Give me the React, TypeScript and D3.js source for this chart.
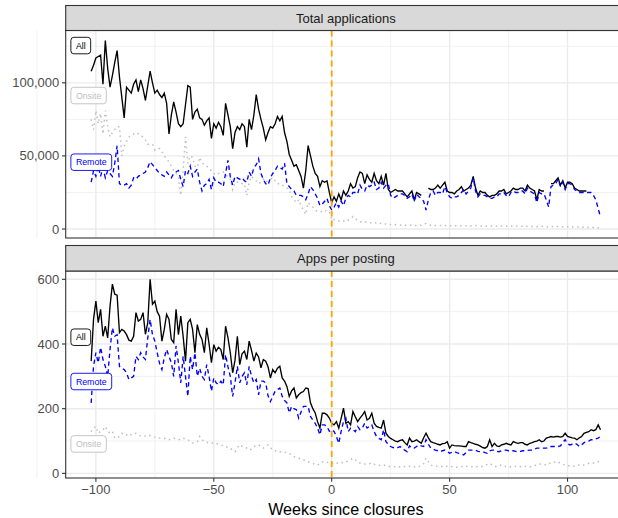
import React from 'react';
import * as d3 from 'd3';

// weekly observations, weeks -102 .. 114 relative to closures
const weeks = d3.range(-102, 115);
const seriesNames = ['All', 'Onsite', 'Remote'];
const seriesColors = ['#000000', '#BEBEBE', '#0000FF'];
const seriesDash = ['none', '1.5,3.6', '4.4,3.4'];

// Total applications (thousands)
const totalAll = [
  108, 112, 117, 118, 119, 99, 129, 110, 97, 105,
  114, 122, 104, 90, 76, 97, 95, 93, 99, 102,
  94, 102, 96, 88, 98, 108, 100, 93, 95, 92,
  90, 93, 86, 65, 78, 87, 80, 72, 70, 72,
  85, 98, 97, 75, 80, 82, 76, 75, 71, 74,
  76, 62, 72, 69, 73, 70, 64, 86, 78, 70,
  55, 66, 70, 68, 72, 70, 56, 75, 68, 78,
  92, 82, 75, 69, 61, 66, 70, 69, 72, 77,
  74, 77, 66, 60, 51, 47, 43, 44, 40, 36,
  28, 40, 57, 50, 43, 38, 36, 29, 33, 32,
  33, 25, 18, 22, 19, 24, 20, 26, 23, 26,
  31, 28, 29, 35, 39, 38, 31, 37, 34, 32,
  38, 33, 31, 36, 30, 38, 27, 25, 26, 27,
  26, 26, 26, 24, 22, 24, 26, 20, 25, 24,
  23, null, null, 28, 27, 27, 28, 30, 28, 30,
  32, 26, 25, 25, 24, 26, 27, 29, 26, 27,
  28, 30, 36, 28, 23, 26, 25, 25, 23, 22,
  23, 23, 24, 26, 26, 27, 24, 25, 26, 28,
  27, 27, 28, 28, 26, 30, 28, 27, 26, 20,
  27, 26, 26, null, null, 31, 31, 33, 35, 30,
  33, 28, 32, 32, 31, 28, 27, 26, 26, 26,
  26, null, null, null, null, null, null,
];
const totalOnsite = [
  75, 68, 81, 72, 79, 65, 81, 70, 63, 66,
  68, 70, 70, 50, 57, 60, 63, 64, 65, 66,
  65, 64, 63, 61, 58, 58, 58, 54, 55, 55,
  53, 50, 48, 46, 43, 40, 38, 36, 23, 40,
  63, 45, 50, 49, 43, 42, 49, 45, 44, 43,
  41, 40, 38, 37, 38, 38, 39, 37, 36, 34,
  27, 32, 32, 32, 31, 31, 23, 32, 36, 34,
  33, 31, 32, 34, 32, 33, 34, 35, 33, 31,
  31, 30, 29, 28, 27, 22, 20, 18, 20, 16,
  13, 10, 18, 16, 15, 13, 12, 12, 12, 13,
  12, 12, 6, 6.5, 6, 5.5, 5, 5.5, 5, 6,
  7, 8.5, 7, 6, 5, 5, 5, 4.5, 4.5, 4,
  4.5, 4, 3.5, 4, 3.5, 3.5, 3.5, 3, 2.8, 3,
  2.8, 2.6, 2.8, 2.6, 2.5, 2.8, 2.6, 2.5, 2.4, 2.5,
  2.6, 3.5, 3.8, 3, 2.6, 2.5, 2.4, 2.5, 2.4, 2.3,
  2.4, 2.3, 2.2, 2.3, 2.2, 2.2, 2.1, 2.2, 2.1, 2.2,
  2.2, 2.1, 2.3, 2.4, 2.2, 2, 2, 1.9, 2, 2.1,
  2, 1.9, 1.9, 2, 2.1, 2, 1.9, 1.8, 1.9, 2.1,
  2, 1.9, 1.8, 1.9, 2, 1.8, 1.7, 1.8, 1.7, 1.6,
  1.7, 1.8, 1.7, 1.6, 1.5, 1.6, 1.7, 1.8, 1.7, 1.6,
  1.5, 1.6, 1.5, 1.4, 1.5, 1.4, 1.3, 1.4, 1.3, 1.2,
  1.2, 1.1, 1.1, 1, 0.9, 0.8, 0.6,
];
const totalRemote = [
  32, 40, 36, 43, 36, 42, 35, 40, 38, 36,
  45, 57, 31, 30, 30, 31, 28, 30, 35, 34,
  36, 37, 38, 39, 42, 46, 44, 42, 40, 38,
  37, 36, 39, 37, 35, 38, 39, 40, 34, 29,
  40, 38, 43, 36, 39, 41, 32, 26, 30, 31,
  34, 27, 35, 32, 32, 31, 29, 38, 47, 36,
  30, 36, 35, 34, 35, 33, 32, 39, 36, 42,
  44, 48, 38, 34, 31, 30, 35, 38, 40, 43,
  42, 41, 45, 31, 29, 27, 26, 23, 23, 23,
  22, 20, 24, 29, 27, 24, 21, 16, 17, 19,
  21, 16, 13, 15, 18, 15, 19, 16, 21, 23,
  22, 25, 25, 24, 30, 27, 26, 30, 29, 30,
  32, 27, 28, 32, 28, 30, 31, 23, 21, 22,
  23, 24, 24, 23, 21, 22, 24, 19, 24, 22,
  21, 19, 13, 20, 25, 26, 23, 25, 25, 24,
  29, 25, 22, 21, 22, 22, 23, 25, 27, 24,
  26, 28, 35, 26, 22, 24, 23, 23, 22, 21,
  21, 22, 22, 24, 24, 25, 23, 22, 25, 26,
  25, 25, 26, 26, 24, 28, 26, 25, 24, 18,
  25, 24, 24, 20, 15, 29, 30, 31, 34, 29,
  32, 27, 31, 31, 30, 27, 26, 25, 25, 25,
  25, 25, 25, 23, 20, 14, 8,
];

// Applications per posting
const perAll = [
  347, 476, 533, 466, 507, 424, 455, 419, 517, 585,
  554, 551, 435, 445, 440, 429, 412, 409, 424, 497,
  471, 476, 497, 430, 466, 600, 523, 533, 500, 486,
  409, 445, 492, 476, 414, 404, 507, 429, 486, 424,
  347, 466, 476, 445, 373, 460, 430, 414, 373, 450,
  400, 342, 398, 378, 390, 383, 352, 455, 420, 373,
  311, 350, 424, 336, 370, 378, 352, 409, 380, 347,
  372, 360, 326, 352, 347, 330, 295, 321, 311, 325,
  331, 295, 285, 269, 238, 255, 264, 233, 243, 250,
  253, 264, 262, 218, 200, 187, 160, 140, 186, 186,
  181, 171, 155, 150, 160, 140, 170, 202, 155, 160,
  150, 191, 175, 160, 171, 180, 191, 165, 170, 186,
  155, 145, 142, 140, 165, 124, 114, 108, 104, 100,
  98, 102, 104, 95, 88, 109, 98, 100, 104, 98,
  93, 110, 124, 110, 98, 95, 93, 90, 88, 92,
  93, 98, 78, 88, 86, 85, 85, 84, 83, 83,
  98, 95, 93, 90, 88, 84, 80, 78, 83, 104,
  83, 93, 85, 83, 88, 90, 93, 90, 88, 98,
  95, 93, 95, 95, 90, 88, 93, 95, 98, 100,
  104, 98, 100, 109, 111, 114, 112, 114, 114, 112,
  114, 124, 114, 112, 110, 109, 104, 110, 114, 124,
  127, 129, 135, 132, 135, 150, 135,
];
const perOnsite = [
  129, 140, 145, 124, 130, 135, 145, 130, 124, 129,
  109, 112, 114, 124, 119, 119, 124, 119, 122, 124,
  119, 116, 114, 116, 119, 117, 114, 112, 110, 109,
  109, 108, 106, 104, 108, 109, 106, 104, 106, 109,
  106, 104, 100, 94, 96, 98, 114, 104, 98, 96,
  94, 93, 95, 93, 90, 88, 85, 83, 80, 78,
  72, 67, 80, 88, 84, 83, 78, 72, 75, 83,
  86, 88, 83, 78, 82, 88, 80, 72, 70, 67,
  67, 67, 65, 64, 62, 56, 52, 49, 47, 44,
  42, 39, 36, 33, 31, 28, 26, 30, 36, 36,
  34, 35, 31, 33, 32, 30, 33, 34, 35, 38,
  42, 47, 42, 36, 32, 30, 29, 28, 30, 32,
  28, 26, 25, 24, 26, 23, 22, 21, 22, 20,
  21, 20, 22, 21, 20, 22, 21, 20, 22, 21,
  24, 30, 47, 36, 26, 23, 22, 21, 20, 21,
  20, 22, 20, 21, 20, 19, 20, 21, 20, 22,
  21, 20, 21, 20, 21, 20, 22, 25, 28, 31,
  26, 22, 21, 24, 26, 22, 21, 22, 20, 21,
  22, 20, 21, 20, 22, 21, 20, 22, 24, 26,
  28, 30, 28, 26, 30, 32, 36, 34, 36, 30,
  28, 26, 24, 23, 22, 22, 24, 26, 24, 26,
  28, 31, 30, 32, 34, 36, 26,
];
const perRemote = [
  218, 331, 373, 342, 390, 352, 331, 300, 383, 450,
  424, 429, 331, 325, 321, 311, 290, 295, 300, 362,
  352, 373, 360, 352, 419, 476, 429, 409, 373, 340,
  321, 357, 383, 362, 342, 300, 394, 342, 280, 362,
  300, 238, 362, 321, 373, 300, 325, 300, 290, 336,
  300, 254, 295, 280, 274, 285, 274, 367, 330, 300,
  238, 280, 331, 280, 300, 311, 274, 331, 300, 280,
  290, 243, 285, 285, 280, 240, 222, 238, 254, 259,
  264, 238, 225, 218, 187, 207, 200, 197, 171, 190,
  207, 207, 207, 176, 165, 155, 140, 119, 150, 150,
  145, 130, 135, 130, 114, 93, 130, 160, 171, 129,
  140, 135, 129, 145, 135, 140, 155, 140, 145, 150,
  129, 114, 108, 104, 135, 98, 90, 83, 80, 78,
  80, 83, 75, 72, 67, 85, 78, 78, 83, 88,
  85, 83, 104, 90, 78, 75, 72, 70, 67, 70,
  72, 68, 62, 65, 67, 64, 62, 60, 57, 65,
  72, 72, 72, 72, 68, 67, 67, 64, 62, 70,
  72, 72, 68, 67, 70, 72, 72, 70, 70, 70,
  68, 67, 68, 70, 70, 71, 72, 72, 75, 78,
  78, 78, 78, 78, 80, 83, 83, 83, 83, 85,
  95, 104, 92, 88, 90, 93, 90, 83, 88, 95,
  98, 100, 104, 104, 107, 109, 114,
];

// where the series name tags sit (y in data units), order All, Onsite, Remote
const totalLabelY = [125500, 91300, 45700];
const perLabelY = [421, 91, 284];
const labelWeek = -110.6;

const FONT = "'Liberation Sans', Arial, Helvetica, sans-serif";

const panelLeft = 65.7;
const panelRight = 626;
const x = d3.scaleLinear()
  .domain([d3.min(weeks)! - 10.8, d3.max(weeks)! + 10.8])
  .range([panelLeft, panelRight]);

const panels = [
  {
    title: 'Total applications',
    stripTop: 5.5, top: 30.5, bottom: 238,
    domain: [-6160, 135800],
    major: [0, 50000, 100000], minor: [25000, 75000, 125000],
    fmt: d3.format(','),
    series: [totalAll, totalOnsite, totalRemote].map(s => s.map(v => (v == null ? null : v * 1000))),
    labelY: totalLabelY,
  },
  {
    title: 'Apps per posting',
    stripTop: 245.5, top: 271, bottom: 478,
    domain: [-14.3, 625.7],
    major: [0, 200, 400, 600], minor: [100, 300, 500],
    fmt: d3.format(','),
    series: [perAll, perOnsite, perRemote],
    labelY: perLabelY,
  },
];

let ctx: CanvasRenderingContext2D | null = null;
function textWidth(s: string, size: number) {
  if (!ctx) ctx = document.createElement('canvas').getContext('2d');
  if (!ctx) return s.length * size * 0.55;
  ctx.font = `${size}px ${FONT}`;
  return ctx.measureText(s).width;
}

function Panel({ p, showX }: { p: typeof panels[number]; showX: boolean }) {
  const y = d3.scaleLinear().domain(p.domain).range([p.bottom, p.top]);
  const xMajor = [-100, -50, 0, 50, 100];
  const xMinor = [-125, -75, -25, 25, 75, 125];
  const line = d3.line<number | null>()
    .defined(d => d != null)
    .x((_, i) => x(weeks[i]))
    .y(d => y(d as number));
  const w = panelRight - panelLeft;
  return (
    <g>
      <rect x={panelLeft} y={p.top} width={w} height={p.bottom - p.top} fill="#fff" />
      {p.minor.map(t => (
        <line key={'ym' + t} x1={panelLeft} x2={panelRight} y1={y(t)} y2={y(t)} stroke="#EBEBEB" strokeWidth={0.7} />
      ))}
      {xMinor.map(t => (
        <line key={'xm' + t} x1={x(t)} x2={x(t)} y1={p.top} y2={p.bottom} stroke="#EBEBEB" strokeWidth={0.7} />
      ))}
      {p.major.map(t => (
        <line key={'yM' + t} x1={panelLeft} x2={panelRight} y1={y(t)} y2={y(t)} stroke="#EBEBEB" strokeWidth={1.4} />
      ))}
      {xMajor.map(t => (
        <line key={'xM' + t} x1={x(t)} x2={x(t)} y1={p.top} y2={p.bottom} stroke="#EBEBEB" strokeWidth={1.4} />
      ))}
      {p.series.map((s, i) => (
        <path key={seriesNames[i]} d={line(s as (number | null)[]) || ''} fill="none"
          stroke={seriesColors[i]} strokeWidth={i === 1 ? 1.5 : 1.35}
          strokeDasharray={seriesDash[i] === 'none' ? undefined : seriesDash[i]} />
      ))}
      <line x1={x(0)} x2={x(0)} y1={p.top} y2={p.bottom} stroke="#FFA500" strokeWidth={1.8} strokeDasharray="6,4" />
      {seriesNames.map((name, i) => {
        const tw = textWidth(name, 8.8);
        const bw = tw + 10;
        const bh = 16.5;
        const lx = x(labelWeek);
        const cy = y(p.labelY[i]);
        return (
          <g key={'lab' + name}>
            <rect x={lx} y={cy - bh / 2} width={bw} height={bh} rx={3} ry={3}
              fill="#fff" stroke={seriesColors[i]} strokeWidth={0.9} />
            <text x={lx + 5} y={cy} dy="0.35em" fontSize={8.8} fill={seriesColors[i]} fontFamily={FONT}>{name}</text>
          </g>
        );
      })}
      <rect x={panelLeft} y={p.top} width={w} height={p.bottom - p.top} fill="none" stroke="#333333" strokeWidth={1.1} />
      {/* strip */}
      <rect x={panelLeft} y={p.stripTop} width={w} height={p.top - p.stripTop} fill="#D9D9D9" stroke="#333333" strokeWidth={1.1} />
      <text x={(panelLeft + panelRight) / 2} y={(p.stripTop + p.top) / 2} dy="0.35em" textAnchor="middle"
        fontSize={13} fill="#1A1A1A" fontFamily={FONT}>{p.title}</text>
      {/* y axis */}
      {p.major.map(t => (
        <g key={'yt' + t}>
          <line x1={panelLeft - 3.7} x2={panelLeft} y1={y(t)} y2={y(t)} stroke="#333333" strokeWidth={1.1} />
          <text x={panelLeft - 6.5} y={y(t)} dy="0.35em" textAnchor="end" fontSize={13} fill="#4D4D4D" fontFamily={FONT}>
            {p.fmt(t)}
          </text>
        </g>
      ))}
      {showX && xMajor.map(t => (
        <g key={'xt' + t}>
          <line x1={x(t)} x2={x(t)} y1={p.bottom} y2={p.bottom + 3.7} stroke="#333333" strokeWidth={1.1} />
          <text x={x(t)} y={p.bottom + 6} dy="0.8em" textAnchor="middle" fontSize={13} fill="#4D4D4D" fontFamily={FONT}>
            {d3.format('')(t)}
          </text>
        </g>
      ))}
    </g>
  );
}

export default function App() {
  return (
    <svg width={618} height={518} style={{ position: 'absolute', left: 0, top: 0, display: 'block' }}>
      <rect width={618} height={518} fill="#fff" />
      {panels.map((p, i) => (
        <Panel key={p.title} p={p} showX={i === panels.length - 1} />
      ))}
      <text x={(panelLeft + panelRight) / 2} y={515} textAnchor="middle" fontSize={16.1} fill="#000" fontFamily={FONT}>
        Weeks since closures
      </text>
    </svg>
  );
}
